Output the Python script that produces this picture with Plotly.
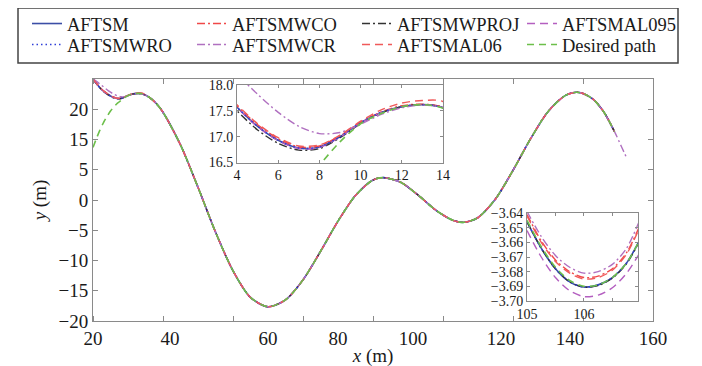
import plotly.graph_objects as go

# ---------------- data ----------------
# desired path (x in m, y in m)
path_x = [0, 1, 2, 3, 4, 5, 6, 7, 8, 9, 10, 11, 12, 13, 14,
          16, 18, 20, 25, 30, 35, 40, 45, 50, 55, 60, 65, 70, 75, 80, 83,
          88, 93, 98, 103, 106.1, 110, 115, 120, 125, 130, 135, 138, 140, 143, 146, 149]
path_y = [8.7, 10.2, 11.6, 12.8, 13.8, 14.7, 15.4, 16.0, 16.45, 16.9, 17.25, 17.45, 17.58, 17.62, 17.55,
          17.0, 16.0, 14.5, 9.1, 2.1, -5.3, -11.7, -16.1, -17.65, -16.5, -13.2, -8.5, -3.5, 0.75, 3.3, 3.7,
          2.9, 0.75, -1.7, -3.4, -3.69, -2.9, 0.17, 4.9, 10.1, 14.6, 17.3, 17.8, 17.6, 16.6, 14.5, 11.3]

# initial transient of the tracked paths, x = 0..14
start_x = [0, 1, 2, 3, 4, 5, 6, 7, 8, 9, 10, 11, 12, 13, 14]
start_aftsm = [20.0, 19.25, 18.55, 18.0, 17.57, 17.2, 16.93, 16.78, 16.8, 17.0, 17.27, 17.47, 17.58, 17.62, 17.56]
start_wro = [20.0, 19.25, 18.55, 18.0, 17.57, 17.2, 16.93, 16.78, 16.8, 17.0, 17.27, 17.47, 17.58, 17.62, 17.56]
start_wco = [20.0, 19.27, 18.58, 18.03, 17.6, 17.23, 16.96, 16.8, 16.82, 17.02, 17.28, 17.48, 17.6, 17.63, 17.57]
start_wcr = [20.0, 19.6, 19.15, 18.7, 18.22, 17.82, 17.47, 17.2, 17.06, 17.08, 17.24, 17.43, 17.56, 17.61, 17.56]
start_wproj = [20.0, 19.2, 18.5, 17.95, 17.5, 17.13, 16.87, 16.74, 16.77, 16.98, 17.25, 17.46, 17.58, 17.62, 17.56]
start_al06 = [20.0, 19.28, 18.6, 18.05, 17.62, 17.25, 16.98, 16.82, 16.84, 17.03, 17.3, 17.52, 17.65, 17.7, 17.68]
start_al095 = [20.0, 19.24, 18.54, 17.99, 17.56, 17.19, 16.92, 16.77, 16.79, 16.99, 17.26, 17.47, 17.58, 17.62, 17.56]

# extra tail of AFTSMWCR beyond the end of the other curves
wcr_tail_x = [151, 152.6]
wcr_tail_y = [8.8, 6.8]

# zoom near the local minimum (inset 2)
zoom_x = [105, 105.25, 105.5, 105.75, 106, 106.25, 106.5, 106.75, 107]
zoom_desired = [-3.645, -3.663, -3.677, -3.686, -3.690, -3.689, -3.684, -3.674, -3.657]
zoom_aftsm = [-3.646, -3.664, -3.678, -3.687, -3.6905, -3.689, -3.684, -3.674, -3.657]
zoom_wro = [-3.646, -3.664, -3.678, -3.687, -3.6905, -3.689, -3.684, -3.674, -3.657]
zoom_wco = [-3.641, -3.659, -3.672, -3.680, -3.684, -3.683, -3.678, -3.667, -3.647]
zoom_wcr = [-3.639, -3.656, -3.669, -3.677, -3.681, -3.680, -3.675, -3.664, -3.643]
zoom_wproj = [-3.646, -3.664, -3.678, -3.687, -3.6905, -3.6895, -3.6845, -3.6745, -3.6575]
zoom_al06 = [-3.642, -3.660, -3.673, -3.681, -3.685, -3.684, -3.679, -3.668, -3.648]
zoom_al095 = [-3.652, -3.670, -3.684, -3.693, -3.697, -3.696, -3.691, -3.681, -3.666]

# axis ticks / tick labels (as printed in the figure)
main_tick_vals = [0, 20, 40, 60, 80, 100, 120, 140, 160]
x_label_text = ["20", "40", "60", "80", "100", "120", "140", "160"]
x_label_pos = [0, 22, 50, 70, 91.4, 116.6, 136.3, 160]
y_tick_vals = [15, 10, 5, 0, -5, -10, -15, -20]
y_tick_text = ["20", "15", "5", "0", "\u22125", "\u221210", "\u221215", "\u221220"]

# ---------------- layout helpers ----------------
FONT = "Liberation Serif, Times New Roman, serif"
W, H = 702, 366
OFF = 8  # the page body margin shifts the figure by this many pixels


def px(p):
    return (p - OFF) / W


def py(p):
    return 1 - (p - OFF) / H


n_start = len(start_x)
tail_x = path_x[n_start:]
tail_y = path_y[n_start:]

series = [
    dict(name="AFTSM", start=start_aftsm, zoom=zoom_aftsm, color="#3b4ea6", dash="solid", w=1.6, lg="legend"),
    dict(name="AFTSMWCO", start=start_wco, zoom=zoom_wco, color="#f04848", dash="8px,3px,2px,3px", w=1.4, lg="legend"),
    dict(name="AFTSMWPROJ", start=start_wproj, zoom=zoom_wproj, color="#333333", dash="8px,3px,2px,3px", w=1.4, lg="legend"),
    dict(name="AFTSMAL095", start=start_al095, zoom=zoom_al095, color="#b45fc0", dash="8px,5px", w=1.4, lg="legend"),
    dict(name="AFTSMWRO", start=start_wro, zoom=zoom_wro, color="#2f3fd8", dash="1.5px,3px", w=1.5, lg="legend2"),
    dict(name="AFTSMWCR", start=start_wcr, zoom=zoom_wcr, color="#b070c0", dash="8px,3px,2px,3px", w=1.4, lg="legend2"),
    dict(name="AFTSMAL06", start=start_al06, zoom=zoom_al06, color="#f05a5a", dash="8px,5px", w=1.4, lg="legend2"),
]

fig = go.Figure()

for s in series:
    xs = start_x + tail_x
    ys = s["start"] + tail_y
    if s["name"] == "AFTSMWCR":
        xs = xs + wcr_tail_x
        ys = ys + wcr_tail_y
    line = dict(color=s["color"], dash=s["dash"], width=s["w"], shape="spline", smoothing=0.8)
    fig.add_trace(go.Scatter(x=xs, y=ys, mode="lines", name=s["name"], line=line,
                             xaxis="x", yaxis="y", legend=s["lg"]))
    fig.add_trace(go.Scatter(x=xs, y=ys, mode="lines", line=line, showlegend=False,
                             xaxis="x3", yaxis="y3"))
    fig.add_trace(go.Scatter(x=zoom_x, y=s["zoom"], mode="lines", line=line, showlegend=False,
                             xaxis="x4", yaxis="y4"))

green = dict(color="#6cbf4a", dash="7px,5px", width=1.6, shape="spline", smoothing=0.8)
fig.add_trace(go.Scatter(x=path_x, y=path_y, mode="lines", name="Desired path", line=green,
                         legend="legend2"))
fig.add_trace(go.Scatter(x=path_x, y=path_y, mode="lines", line=green, showlegend=False,
                         xaxis="x3", yaxis="y3"))
fig.add_trace(go.Scatter(x=zoom_x, y=zoom_desired, mode="lines", line=green, showlegend=False,
                         xaxis="x4", yaxis="y4"))

main_x_dom = [px(93), px(653)]
main_y_dom = [py(321), py(79)]
in1_x_dom = [px(237), px(443)]
in1_y_dom = [py(162.5), py(85)]
in2_x_dom = [px(527), px(638)]
in2_y_dom = [py(301), py(213)]

in1_xr = [4, 14]
in1_yr = [16.5, 18.0]
in2_xr = [105, 106.95]
in2_yr = [-3.70, -3.64]

axcol = "#8a8a8a"
txtcol = "#1a1a1a"
common_ax = dict(showgrid=False, zeroline=False, showline=True, linecolor=axcol, linewidth=1,
                 mirror="ticks", ticks="inside", tickcolor=axcol)

leg_common = dict(orientation="h", xanchor="left", yanchor="middle", bgcolor="rgba(0,0,0,0)",
                  borderwidth=0, font=dict(size=18.5, family=FONT, color=txtcol),
                  entrywidth=120, entrywidthmode="pixels", itemwidth=30)

fig.update_layout(
    width=W, height=H,
    margin=dict(l=0, r=0, t=0, b=0, autoexpand=False),
    paper_bgcolor="white", plot_bgcolor="white",
    font=dict(family=FONT, color=txtcol, size=19),
    xaxis=dict(domain=main_x_dom, range=[0, 160], tickvals=x_label_pos, ticktext=x_label_text,
               tickfont=dict(size=19), anchor="y",
               showgrid=False, zeroline=False, showline=True, linecolor=axcol, linewidth=1,
               mirror="ticks", ticks="",
               minor=dict(tickvals=main_tick_vals, ticks="inside", ticklen=5, tickcolor=axcol, showgrid=False),
               title=dict(text="<i>x</i> (m)", font=dict(size=19), standoff=0)),
    yaxis=dict(domain=main_y_dom, range=[-20, 20], tickvals=y_tick_vals, ticktext=y_tick_text,
               ticklen=5, anchor="x", tickfont=dict(size=19),
               title=dict(text="<i>y</i> (m)", font=dict(size=19), standoff=6), **common_ax),
    xaxis3=dict(domain=in1_x_dom, range=in1_xr, tickvals=[4, 6, 8, 10, 12, 14], ticklen=3,
                anchor="y3", tickfont=dict(size=14), **common_ax),
    yaxis3=dict(domain=in1_y_dom, range=in1_yr, tickvals=[16.5, 17.0, 17.5, 18.0], tickformat=".1f",
                ticklen=3, anchor="x3", tickfont=dict(size=14), **common_ax),
    xaxis4=dict(domain=in2_x_dom, range=in2_xr, tickvals=[105, 105.5, 106, 106.5],
                ticktext=["105", "", "106", ""], ticklen=3, anchor="y4", tickfont=dict(size=14), **common_ax),
    yaxis4=dict(domain=in2_y_dom, range=in2_yr, tickvals=[-3.70, -3.69, -3.68, -3.67, -3.66, -3.65, -3.64],
                tickformat=".2f", ticklen=3, anchor="x4", tickfont=dict(size=14), **common_ax),
    legend=dict(x=px(27), y=py(24), **leg_common),
    legend2=dict(x=px(27), y=py(45), **leg_common),
    shapes=[
        dict(type="rect", xref="paper", yref="paper", x0=px(18), x1=px(678), y0=py(63), y1=py(8),
             line=dict(color="#444444", width=1.5), fillcolor="rgba(0,0,0,0)", layer="below"),
        dict(type="rect", xref="x3", yref="y3", x0=in1_xr[0], x1=in1_xr[1], y0=in1_yr[0], y1=in1_yr[1],
             fillcolor="white", line=dict(width=0), layer="below"),
        dict(type="rect", xref="x4", yref="y4", x0=in2_xr[0], x1=in2_xr[1], y0=in2_yr[0], y1=in2_yr[1],
             fillcolor="white", line=dict(width=0), layer="below"),
    ],
)

fig.write_html("out.html")
